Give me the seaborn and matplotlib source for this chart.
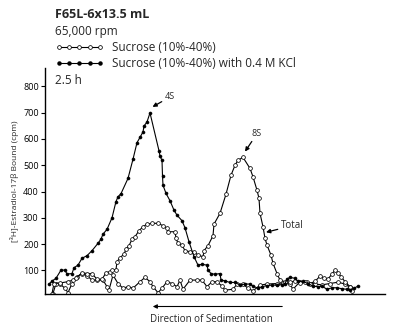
import numpy as np
import pandas as pd
import matplotlib
matplotlib.use("Agg")
import matplotlib.pyplot as plt
import seaborn as sns
from matplotlib.lines import Line2D

# Gradient position (arbitrary units along the tube) and bound radioactivity (cpm)
kcl_pos = [49, 52, 56, 61, 65, 67, 72, 74, 78, 82, 87, 92, 98, 101, 103, 107, 112, 116, 118, 121,
           128, 133, 137, 140, 143, 144, 147, 150, 159, 160, 162, 162.5, 163, 166, 170, 174, 177,
           182, 185, 189, 194, 198, 202, 207, 208, 211, 215, 220, 221, 225, 230, 235, 240, 245,
           250, 253, 258, 262, 267, 272, 277, 282, 285, 287, 290, 295, 298, 303, 308, 313, 318,
           322, 327, 332, 337, 342, 347, 350, 354, 358]
kcl_cpm = [48, 59, 70, 101, 101, 86, 88, 110, 120, 146, 156, 175, 203, 219, 238, 256, 300, 362, 380, 392,
           450, 523, 586, 606, 627, 649, 665, 699, 555, 535, 519, 459, 424, 393, 365, 329, 310,
           289, 262, 209, 152, 120, 123, 120, 101, 88, 85, 88, 63, 60, 54, 54, 44, 48,
           48, 40, 32, 38, 42, 44, 44, 46, 50, 68, 73, 70, 58, 58, 50, 40, 38,
           40, 28, 34, 34, 30, 28, 25, 32, 40]

total_pos = [52, 54, 60, 68, 73, 76, 82, 87, 92, 97, 102, 106, 110, 112, 116, 117, 120, 124, 126, 129,
             132, 135, 139, 143, 147, 152, 158, 163, 167, 168, 175, 176, 178, 182, 185, 190, 194,
             198, 203, 204, 208, 213, 214, 220, 226, 231, 235, 238, 243, 250, 253, 257, 259, 260,
             263, 265, 267, 271, 273, 277, 280, 285, 290, 295, 300, 305, 310, 315, 320, 324, 328,
             332, 335, 338, 341, 345, 350, 352]
total_cpm = [12, 50, 52, 57, 63, 70, 91, 88, 88, 66, 66, 91, 95, 101, 103, 133, 148, 162, 180, 194,
             218, 228, 251, 266, 276, 279, 279, 270, 260, 247, 247, 222, 203, 196, 175, 171, 171,
             158, 152, 175, 194, 232, 276, 317, 390, 462, 500, 519, 530, 488, 456, 405, 374, 317,
             266, 222, 196, 158, 127, 88, 63, 57, 55, 60, 52, 55, 50, 58, 78, 70, 67,
             86, 101, 91, 76, 57, 38, 22]

blank_pos = [53, 56, 60, 65, 68, 72, 77, 82, 87, 92, 97, 103, 107, 109, 113, 118, 123, 128, 133, 140,
             145, 150, 153, 158, 162, 167, 172, 177, 180, 183, 190, 197, 202, 207, 212, 217, 222,
             225, 233, 237, 243, 248, 253, 260, 267, 277, 283, 290, 293, 300, 307, 315, 322, 330,
             338, 345, 350]
blank_cpm = [12, 50, 48, 32, 15, 50, 76, 88, 80, 63, 63, 63, 38, 25, 82, 50, 32, 38, 32, 57,
             73, 57, 38, 15, 32, 57, 50, 38, 63, 28, 63, 63, 63, 38, 57, 57, 40,
             25, 28, 48, 48, 32, 22, 44, 48, 50, 52, 48, 28, 57, 57, 48, 45, 50,
             55, 48, 35]

yticks = [100, 200, 300, 400, 500, 600, 700, 800]

sns.set_theme(style="ticks")
plt.rcParams["font.family"] = ["Open Sans", "DejaVu Sans"]

fig = plt.figure(figsize=(4.0, 3.3), dpi=100)
ax = fig.add_axes([45 / 400, 1 - 293.5 / 330, 340 / 400, (293.5 - 68) / 330])

line_kw = dict(ax=ax, color="black", linewidth=0.8, sort=False, estimator=None, marker="o")
open_kw = dict(markersize=2.7, markerfacecolor="white", markeredgecolor="black",
               markeredgewidth=0.55)
sns.lineplot(x=blank_pos, y=blank_cpm, **open_kw, **line_kw)
sns.lineplot(x=total_pos, y=total_cpm, **open_kw, **line_kw)
sns.lineplot(x=kcl_pos, y=kcl_cpm, markersize=2.2, markerfacecolor="black",
             markeredgecolor="black", markeredgewidth=0.4, **line_kw)

ax.set_xlim(45, 385)
ax.set_ylim(12, 870)
ax.set_xticks([])
ax.set_yticks(yticks)
ax.tick_params(axis="y", labelsize=6.5, length=3, width=0.8, pad=1.5, colors="black")
for s in ("top", "right"):
    ax.spines[s].set_visible(False)
for s in ("left", "bottom"):
    ax.spines[s].set_linewidth(1.0)
    ax.spines[s].set_color("black")
ax.set_ylabel("[³H]-Estradiol-17β Bound (cpm)", fontsize=6, labelpad=3)
ax.set_xlabel("")

# Peak annotations
arrow = dict(arrowstyle="-|>", color="black", lw=0.9, mutation_scale=6, shrinkA=0, shrinkB=0)
ax.annotate("4S", xy=(152.5, 722), xytext=(165, 760), fontsize=6.5, ha="left", va="center",
            arrowprops=arrow)
ax.annotate("8S", xy=(245, 552), xytext=(252, 620), fontsize=6.5, ha="left", va="center",
            arrowprops=arrow)
ax.annotate("Total", xy=(266, 245), xytext=(281, 270), fontsize=7, ha="left", va="center",
            arrowprops=arrow)

# Header
fig.text(55 / 400, 1 - 14 / 330, "F65L-6x13.5 mL", fontsize=9, fontweight="bold",
         ha="left", va="center")
fig.text(55 / 400, 1 - 31 / 330, "65,000 rpm", fontsize=8.5, ha="left", va="center")
fig.text(55 / 400, 1 - 80 / 330, "2.5 h", fontsize=8.5, ha="left", va="center")

# Legend rows
handles = [
    Line2D([], [], color="black", lw=0.8, marker="o", markersize=2.7,
           markerfacecolor="white", markeredgecolor="black", markeredgewidth=0.55),
    Line2D([], [], color="black", lw=0.8, marker="o", markersize=2.2,
           markerfacecolor="black", markeredgecolor="black"),
]
fig.legend(handles, ["Sucrose (10%-40%)", "Sucrose (10%-40%) with 0.4 M KCl"],
           loc="upper left", bbox_to_anchor=(55 / 400, 1 - 41 / 330), frameon=False,
           fontsize=8.5, numpoints=5, handlelength=4.1, handletextpad=0.7,
           labelspacing=0.27, borderpad=0, borderaxespad=0)

# Sedimentation direction
fig.add_artist(matplotlib.patches.FancyArrowPatch(
    (285 / 400, 1 - 306.5 / 330), (150 / 400, 1 - 306.5 / 330), transform=fig.transFigure,
    arrowstyle="-|>", mutation_scale=6, lw=0.8, color="black"))
fig.text(211 / 400, 1 - 319 / 330, "Direction of Sedimentation", fontsize=7,
         ha="center", va="center")

fig.savefig("out.png", dpi=100)
